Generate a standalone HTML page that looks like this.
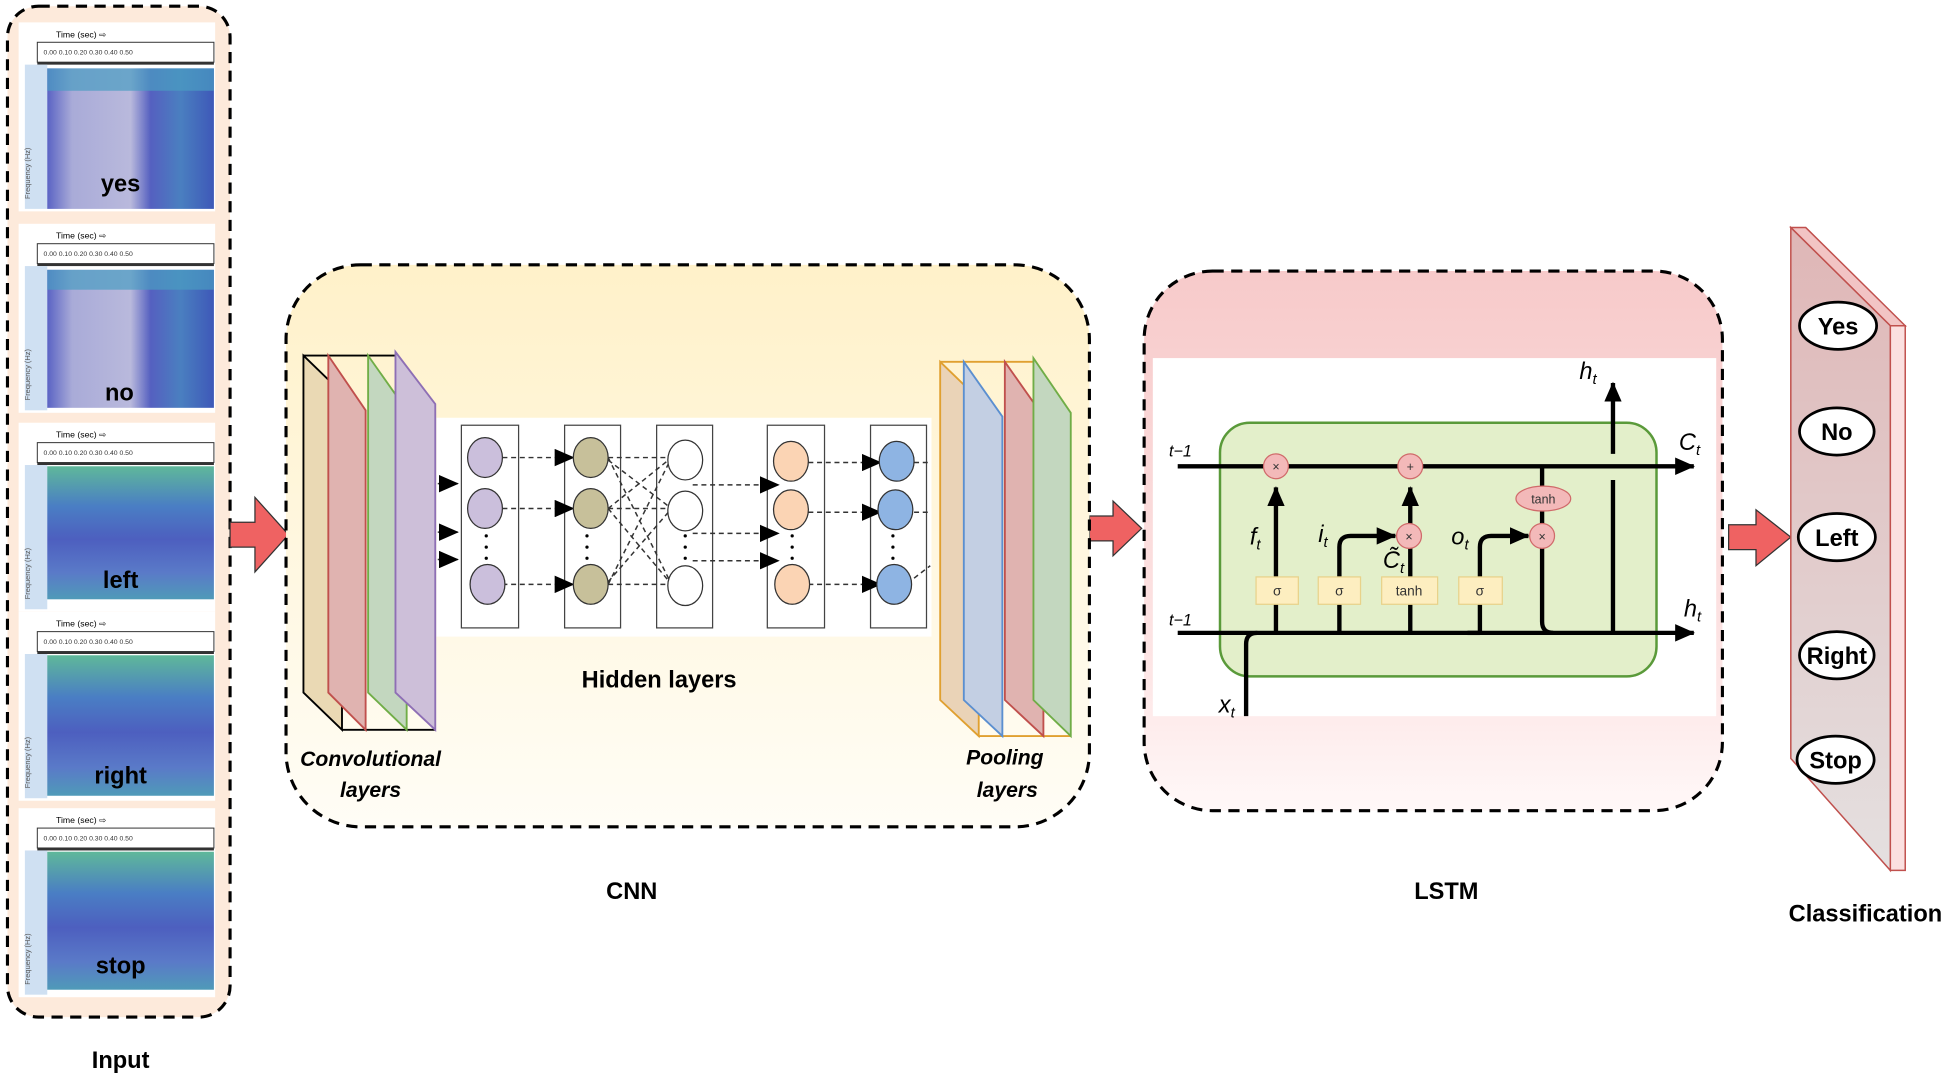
<!DOCTYPE html>
<html><head><meta charset="utf-8"><style>
html,body{margin:0;padding:0;background:#fff;width:1950px;height:1078px;overflow:hidden}
svg{display:block}
text{font-family:"Liberation Sans",sans-serif}
</style></head><body>
<svg width="1950" height="1078" viewBox="0 0 1568 867" preserveAspectRatio="none" xmlns="http://www.w3.org/2000/svg">
<defs>
<linearGradient id="cnn" x1="0" y1="0" x2="0" y2="1"><stop offset="0" stop-color="#fff1c9"/><stop offset="1" stop-color="#fffdf6"/></linearGradient>
<linearGradient id="lstm" x1="0" y1="0" x2="0" y2="1"><stop offset="0" stop-color="#f7caca"/><stop offset="0.75" stop-color="#fde6e6"/><stop offset="1" stop-color="#fff8f8"/></linearGradient>
<linearGradient id="cls" x1="0" y1="0" x2="0" y2="1"><stop offset="0" stop-color="#dfb6b6"/><stop offset="1" stop-color="#e4e0e0"/></linearGradient>
<linearGradient id="specB" x1="0" y1="0" x2="1" y2="0"><stop offset="0" stop-color="#5a63c4"/><stop offset="0.15" stop-color="#a9abd8"/><stop offset="0.5" stop-color="#b9b9dc"/><stop offset="0.62" stop-color="#5560c0"/><stop offset="0.8" stop-color="#4a7fc0"/><stop offset="1" stop-color="#3e58b8"/></linearGradient>
<linearGradient id="specG" x1="0" y1="0" x2="0" y2="1"><stop offset="0" stop-color="#5fb89a"/><stop offset="0.3" stop-color="#4a7ec4"/><stop offset="0.55" stop-color="#4d5fbf"/><stop offset="0.8" stop-color="#5a7ac8"/><stop offset="1" stop-color="#4f9ab8"/></linearGradient>
<marker id="ah" markerWidth="8" markerHeight="8" refX="7" refY="4" orient="auto" markerUnits="userSpaceOnUse"><path d="M0,0 L8,4 L0,8z" fill="#000"/></marker>
<marker id="ahb" markerWidth="16" markerHeight="14" refX="15" refY="7" orient="auto" markerUnits="userSpaceOnUse"><path d="M0,0 L16,7 L0,14z" fill="#000"/></marker>
</defs>

<!-- Input box -->
<rect x="6" y="5" width="179" height="813" rx="25" fill="#fdeadb" stroke="#000" stroke-width="2.5" stroke-dasharray="9,6"/>
<g id="spec">
<rect x="15" y="18" width="158" height="152" fill="#fff"/>
<text x="45" y="30" font-size="7">Time (sec) ⇨</text>
<rect x="30" y="34" width="142" height="16" fill="#fff" stroke="#333" stroke-width="0.8"/>
<text x="35" y="44" font-size="5.5" fill="#333">0.00   0.10   0.20   0.30   0.40   0.50</text>
<rect x="30" y="50" width="142" height="2" fill="#333"/>
<rect x="20" y="52" width="18" height="116" fill="#cfe0f2"/>
<text x="24" y="160" font-size="6" fill="#555" transform="rotate(-90 24 160)">Frequency (Hz)</text>
</g>
<use href="#spec" y="162"/><use href="#spec" y="322"/><use href="#spec" y="474"/><use href="#spec" y="632"/>
<rect x="38" y="55" width="134" height="113" fill="url(#specB)"/>
<rect x="38" y="55" width="134" height="18" fill="#4a9cc2" opacity="0.7"/>
<rect x="38" y="217" width="134" height="111" fill="url(#specB)"/>
<rect x="38" y="217" width="134" height="16" fill="#4a9cc2" opacity="0.7"/>
<rect x="38" y="375" width="134" height="107" fill="url(#specG)"/>
<rect x="38" y="527" width="134" height="113" fill="url(#specG)"/>
<rect x="38" y="685" width="134" height="111" fill="url(#specG)"/>
<g font-size="19" font-weight="bold" fill="#000" text-anchor="middle">
<text x="97" y="154">yes</text><text x="96" y="322">no</text><text x="97" y="473">left</text><text x="97" y="630">right</text><text x="97" y="783">stop</text>
</g>
<text x="97" y="859" font-size="19" font-weight="bold" text-anchor="middle">Input</text>

<!-- red arrows -->
<g fill="#ef6262" stroke="#333" stroke-width="1">
<path d="M185,420 L205,420 L205,400 L232,430 L205,460 L205,440 L185,440z"/>
<path d="M876,415 L895,415 L895,403 L918,425 L895,447 L895,435 L876,435z"/>
<path d="M1390,422 L1412,422 L1412,410 L1440,432 L1412,455 L1412,442 L1390,442z"/>
</g>

<!-- CNN -->
<rect x="230" y="213" width="646" height="452" rx="60" fill="url(#cnn)" stroke="#000" stroke-width="2.5" stroke-dasharray="9,6"/>
<!-- conv layers -->
<path d="M244,286 L318,286 M275,587 L350,587" stroke="#000" stroke-width="1.5"/>
<polygon points="244,286 275,316 275,587 244,557" fill="#ead9b4" stroke="#000" stroke-width="1.5"/>
<polygon points="264,286 294,330 294,587 264,557" fill="#e0b3b0" stroke="#c0504d" stroke-width="1.5"/>
<polygon points="296,286 327,330 327,587 296,557" fill="#c3d7bf" stroke="#70ad47" stroke-width="1.5"/>
<polygon points="318,283 350,325 350,587 318,557" fill="#cdbfd9" stroke="#8e6fb5" stroke-width="1.5"/>
<text x="298" y="616" font-size="17" font-style="italic" font-weight="bold" text-anchor="middle">Convolutional</text>
<text x="298" y="641" font-size="17" font-style="italic" font-weight="bold" text-anchor="middle">layers</text>
<!-- pooling -->
<path d="M756,291 L831,291 M787,592 L861,592" stroke="#e0a030" stroke-width="1.5"/>
<polygon points="756,291 787,321 787,592 756,563" fill="#ead3b7" stroke="#e0a030" stroke-width="1.5"/>
<polygon points="775,291 806,335 806,592 775,563" fill="#c3cfe3" stroke="#5b8fd0" stroke-width="1.5"/>
<polygon points="808,291 839,335 839,592 808,563" fill="#e0b3b0" stroke="#c0504d" stroke-width="1.5"/>
<polygon points="831,288 861,332 861,592 831,563" fill="#c3d7bf" stroke="#70ad47" stroke-width="1.5"/>
<text x="808" y="615" font-size="17" font-style="italic" font-weight="bold" text-anchor="middle">Pooling</text>
<text x="810" y="641" font-size="17" font-style="italic" font-weight="bold" text-anchor="middle">layers</text>
<!-- hidden -->
<rect x="351" y="336" width="398" height="176" fill="#fff"/>
<g fill="none" stroke="#444" stroke-width="1">
<rect x="371" y="342" width="46" height="163"/><rect x="454" y="342" width="45" height="163"/><rect x="528" y="342" width="45" height="163"/><rect x="617" y="342" width="46" height="163"/><rect x="700" y="342" width="45" height="163"/>
</g>
<g stroke="#333" stroke-width="1.2" stroke-dasharray="4,3" fill="none">
<path d="M352,389 H368" marker-end="url(#ahb)"/><path d="M352,428 H368" marker-end="url(#ahb)"/><path d="M352,450 H368" marker-end="url(#ahb)"/>
<path d="M404,368 H461" marker-end="url(#ahb)"/><path d="M404,409 H461" marker-end="url(#ahb)"/><path d="M404,470 H461" marker-end="url(#ahb)"/>
<path d="M489,368 H537 M489,409 H537 M489,470 H537 M489,368 L540,470 M489,370 L540,409 M489,409 L540,368 M489,470 L540,368 M489,468 L540,409 M489,409 L540,470"/>
<path d="M557,390 H626" marker-end="url(#ahb)"/><path d="M557,429 H626" marker-end="url(#ahb)"/><path d="M557,451 H626" marker-end="url(#ahb)"/>
<path d="M650,372 H708" marker-end="url(#ahb)"/><path d="M650,412 H708" marker-end="url(#ahb)"/><path d="M650,470 H708" marker-end="url(#ahb)"/>
<path d="M735,372 H748 M735,412 H748 M735,465 L748,455"/>
</g>
<g stroke="#333" stroke-width="1">
<ellipse cx="390" cy="368" rx="14" ry="16" fill="#cbbfdc"/><ellipse cx="390" cy="409" rx="14" ry="16" fill="#cbbfdc"/><ellipse cx="392" cy="470" rx="14" ry="16" fill="#cbbfdc"/>
<ellipse cx="475" cy="368" rx="14" ry="16" fill="#c7c09a"/><ellipse cx="475" cy="409" rx="14" ry="16" fill="#c7c09a"/><ellipse cx="475" cy="470" rx="14" ry="16" fill="#c7c09a"/>
<ellipse cx="551" cy="370" rx="14" ry="16" fill="#fff"/><ellipse cx="551" cy="411" rx="14" ry="16" fill="#fff"/><ellipse cx="551" cy="471" rx="14" ry="16" fill="#fff"/>
<ellipse cx="636" cy="371" rx="14" ry="16" fill="#fbd4b4"/><ellipse cx="636" cy="410" rx="14" ry="16" fill="#fbd4b4"/><ellipse cx="637" cy="470" rx="14" ry="16" fill="#fbd4b4"/>
<ellipse cx="721" cy="371" rx="14" ry="16" fill="#8eb4e3"/><ellipse cx="720" cy="410" rx="14" ry="16" fill="#8eb4e3"/><ellipse cx="719" cy="470" rx="14" ry="16" fill="#8eb4e3"/>
</g>
<g fill="#000"><circle cx="391" cy="431" r="1.3"/><circle cx="391" cy="440" r="1.3"/><circle cx="391" cy="449" r="1.3"/>
<circle cx="472" cy="431" r="1.3"/><circle cx="472" cy="440" r="1.3"/><circle cx="472" cy="449" r="1.3"/>
<circle cx="551" cy="431" r="1.3"/><circle cx="551" cy="440" r="1.3"/><circle cx="551" cy="449" r="1.3"/>
<circle cx="637" cy="431" r="1.3"/><circle cx="637" cy="440" r="1.3"/><circle cx="637" cy="449" r="1.3"/>
<circle cx="718" cy="431" r="1.3"/><circle cx="718" cy="440" r="1.3"/><circle cx="718" cy="449" r="1.3"/></g>
<text x="530" y="553" font-size="19" font-weight="bold" text-anchor="middle">Hidden layers</text>
<text x="508" y="723" font-size="19" font-weight="bold" text-anchor="middle">CNN</text>

<!-- LSTM -->
<rect x="920" y="218" width="465" height="434" rx="55" fill="url(#lstm)" stroke="#000" stroke-width="2.5" stroke-dasharray="9,6"/>
<rect x="927" y="288" width="453" height="288" fill="#fff"/>
<rect x="981" y="340" width="351" height="204" rx="24" fill="#e3efca" stroke="#5a9a3a" stroke-width="2"/>
<g stroke="#000" stroke-width="3.5" fill="none">
<path d="M947,375 H1362" marker-end="url(#ahb)"/>
<path d="M947,509 H1362" marker-end="url(#ahb)"/>
<path d="M1297,365 V308" marker-end="url(#ahb)"/>
<path d="M1297,386 V509"/>
<path d="M1026,509 V392" marker-end="url(#ahb)"/>
<path d="M1134,509 V392" marker-end="url(#ahb)"/>
<path d="M1077,509 V440 Q1077,431 1086,431 H1122" marker-end="url(#ahb)"/>
<path d="M1190,475 V509 M1190,475 V440 Q1190,431 1199,431 H1229" marker-end="url(#ahb)"/>
<path d="M1240,375 V431 M1240,431 V500 Q1240,509 1249,509"/>
<path d="M1002,576 V518 Q1002,509 1011,509"/>
<path d="M1190,509 L1180,509" />
</g>
<g stroke="#d06a6a" stroke-width="1" fill="#f3b9b9">
<circle cx="1026" cy="375" r="10"/><circle cx="1134" cy="375" r="10"/><circle cx="1133" cy="431" r="10"/><circle cx="1240" cy="431" r="10"/>
<ellipse cx="1241" cy="401" rx="22" ry="10"/>
</g>
<g font-size="10" text-anchor="middle" fill="#333"><text x="1026" y="379">×</text><text x="1134" y="379">+</text><text x="1133" y="435">×</text><text x="1240" y="435">×</text><text x="1241" y="405">tanh</text></g>
<g fill="#fdeec0" stroke="#e8d28a" stroke-width="1">
<rect x="1010" y="464" width="34" height="22"/><rect x="1060" y="464" width="34" height="22"/><rect x="1111" y="464" width="45" height="22"/><rect x="1173" y="464" width="35" height="22"/>
</g>
<g font-size="11" text-anchor="middle" fill="#333"><text x="1027" y="479">σ</text><text x="1077" y="479">σ</text><text x="1133" y="479">tanh</text><text x="1190" y="479">σ</text></g>
<g font-family="Liberation Serif" font-style="italic" font-size="19" fill="#000">
<text x="1005" y="438">f<tspan font-size="12" dy="4">t</tspan></text>
<text x="1060" y="436">i<tspan font-size="12" dy="4">t</tspan></text>
<text x="1112" y="457">C̃<tspan font-size="12" dy="4">t</tspan></text>
<text x="1167" y="438">o<tspan font-size="12" dy="4">t</tspan></text>
<text x="1270" y="305">h<tspan font-size="12" dy="4">t</tspan></text>
<text x="1350" y="362">C<tspan font-size="12" dy="4">t</tspan></text>
<text x="1354" y="496">h<tspan font-size="12" dy="4">t</tspan></text>
<text x="980" y="573">x<tspan font-size="12" dy="4">t</tspan></text>
<text x="940" y="367" font-size="13">t−1</text>
<text x="940" y="503" font-size="13">t−1</text>
</g>
<text x="1163" y="723" font-size="19" font-weight="bold" text-anchor="middle">LSTM</text>

<!-- Classification -->
<polygon points="1440,183 1452,183 1532,262 1520,262" fill="#f2c4c4" stroke="#c0504d" stroke-width="1.2"/>
<polygon points="1520,262 1532,262 1532,700 1520,700" fill="#fbe0e0" stroke="#c0504d" stroke-width="1.2"/>
<polygon points="1440,183 1520,262 1520,700 1440,610" fill="url(#cls)" stroke="#c0504d" stroke-width="1.2"/>
<g fill="#fff" stroke="#000" stroke-width="2.2">
<ellipse cx="1478" cy="262" rx="31" ry="19"/><ellipse cx="1477" cy="347" rx="30" ry="19"/><ellipse cx="1477" cy="432" rx="31" ry="19"/><ellipse cx="1477" cy="527" rx="30" ry="19"/><ellipse cx="1476" cy="611" rx="31" ry="19"/>
</g>
<g font-size="19" font-weight="bold" text-anchor="middle">
<text x="1478" y="269">Yes</text><text x="1477" y="354">No</text><text x="1477" y="439">Left</text><text x="1477" y="534">Right</text><text x="1476" y="618">Stop</text>
</g>
<text x="1500" y="741" font-size="19" font-weight="bold" text-anchor="middle">Classification</text>
</svg>
</body></html>
